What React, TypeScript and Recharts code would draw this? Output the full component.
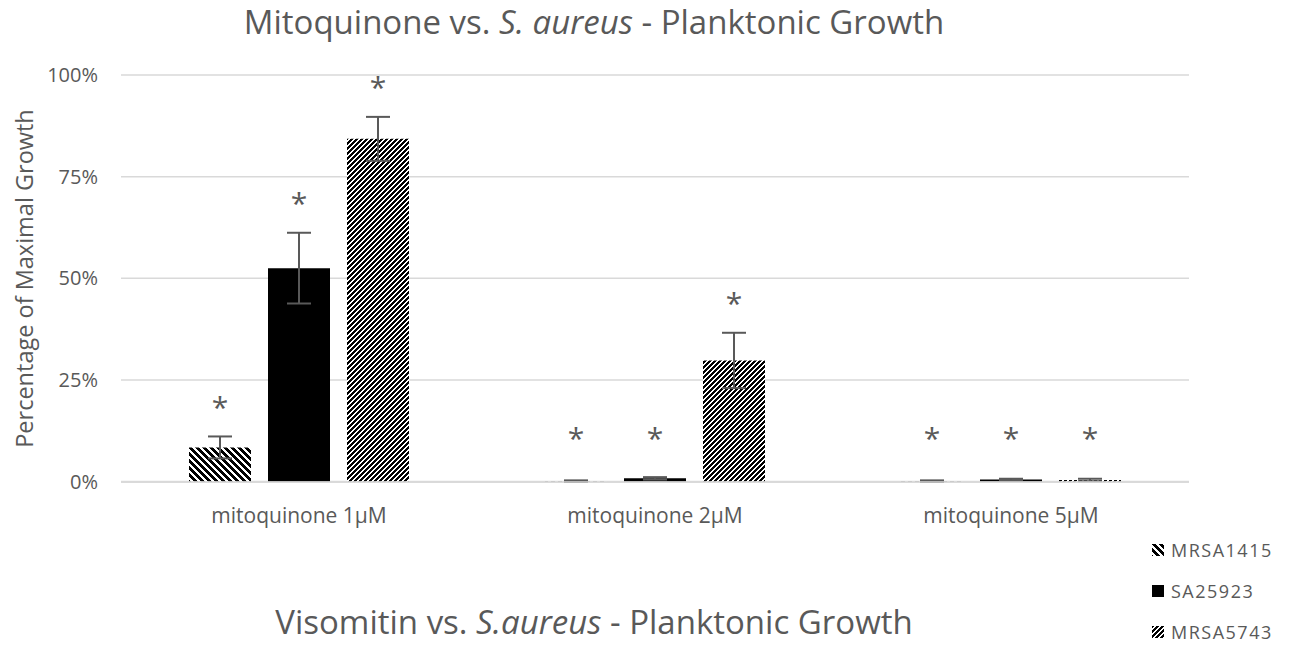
import React from "react";
import {
  BarChart,
  Bar,
  XAxis,
  YAxis,
  CartesianGrid,
  ErrorBar,
  LabelList,
} from "recharts";

const categories = ["mitoquinone 1µM", "mitoquinone 2µM", "mitoquinone 5µM"];
const mrsa1415 = [8.4, 0.1, 0.1];
const mrsa1415Err = [2.7, 0.2, 0.2];
const sa25923 = [52.5, 0.8, 0.5];
const sa25923Err = [8.7, 0.3, 0.2];
const mrsa5743 = [84.3, 29.8, 0.4];
const mrsa5743Err = [5.4, 6.8, 0.3];
const yTicks = [0, 25, 50, 75, 100];

const data = categories.map((name, i) => ({
  name,
  mrsa1415: mrsa1415[i],
  mrsa1415Err: mrsa1415Err[i],
  sa25923: sa25923[i],
  sa25923Err: sa25923Err[i],
  mrsa5743: mrsa5743[i],
  mrsa5743Err: mrsa5743Err[i],
}));

const FONT = "'Open Sans', sans-serif";
const TEXT = "#595959";
const PLOT_TOP = 75;
const PLOT_H = 407;

// pixel-stepped diagonal hatch, like an office bitmap fill
function Hatch({ id, period, ink, back }: { id: string; period: number; ink: number; back: boolean }) {
  const rows = [];
  for (let y = 0; y < period; y++) {
    const s = back ? y : period - 1 - y;
    rows.push(<rect key={`a${y}`} x={s} y={y} width={ink} height={1} fill="#000" />);
    rows.push(<rect key={`b${y}`} x={s - period} y={y} width={ink} height={1} fill="#000" />);
  }
  return (
    <pattern id={id} width={period} height={period} patternUnits="userSpaceOnUse">
      <rect width={period} height={period} fill="#fff" />
      {rows}
    </pattern>
  );
}

// asterisk sits above the error bar cap, never closer than 44px to the baseline
const star = (errs: number[]) => (props: any) => {
  const { x, y, width, height, index } = props;
  const errPx = (errs[index] / 100) * PLOT_H;
  const base = Number(y) + Number(height);
  const cy = Math.min(Number(y) - errPx - 30, base - 44);
  return (
    <text
      x={Number(x) + Number(width) / 2}
      y={cy}
      textAnchor="middle"
      dominantBaseline="central"
      fontFamily={FONT}
      fontSize={30}
      fill={TEXT}
    >
      *
    </text>
  );
};

const legendItems = [
  { label: "MRSA1415", fill: "url(#stripeBack)" },
  { label: "SA25923", fill: "#000" },
  { label: "MRSA5743", fill: "url(#stripeFwd)" },
];

function SideLegend() {
  return (
    <div
      style={{
        position: "absolute",
        left: 1152,
        top: 529,
        fontFamily: FONT,
        fontSize: 18,
        letterSpacing: 1.5,
        color: TEXT,
      }}
    >
      {legendItems.map((it) => (
        <div
          key={it.label}
          style={{ display: "flex", alignItems: "center", height: 41 }}
        >
          <svg width={12} height={12} style={{ marginRight: 7 }}>
            <rect width={12} height={12} fill={it.fill} />
          </svg>
          <span>{it.label}</span>
        </div>
      ))}
    </div>
  );
}

const titleStyle: React.CSSProperties = {
  position: "absolute",
  left: 0,
  width: 1188,
  textAlign: "center",
  fontFamily: FONT,
  fontSize: 33,
  color: TEXT,
  lineHeight: "40px",
  whiteSpace: "nowrap",
};

export default function App() {
  return (
    <div
      style={{
        position: "absolute",
        left: 0,
        top: 0,
        width: 1289,
        height: 651,
        background: "#fff",
        overflow: "hidden",
      }}
    >
      <div style={{ ...titleStyle, top: 2 }}>
        Mitoquinone vs. <i>S. aureus</i> - Planktonic Growth
      </div>
      <BarChart
        width={1289}
        height={651}
        data={data}
        margin={{ top: PLOT_TOP, right: 100, bottom: 139, left: 0 }}
        barSize={62}
        barGap={17}
      >
        <defs>
          <Hatch id="stripeBack" period={7} ink={4} back />
          <Hatch id="stripeFwd" period={5} ink={3} back={false} />
        </defs>
        <CartesianGrid vertical={false} stroke="#d9d9d9" strokeWidth={1.5} />
        <XAxis
          dataKey="name"
          axisLine={{ stroke: "#d9d9d9", strokeWidth: 1.5 }}
          tickLine={false}
          height={30}
          tickMargin={20}
          tick={{ fill: TEXT, fontSize: 21, fontFamily: FONT }}
        />
        <YAxis
          width={121}
          domain={[0, 100]}
          ticks={yTicks}
          tickFormatter={(v) => `${v}%`}
          axisLine={false}
          tickLine={false}
          tickSize={0}
          tickMargin={23}
          tick={{ fill: TEXT, fontSize: 20, fontFamily: FONT }}
          label={{
            content: () => (
              <text
                x={24}
                y={PLOT_TOP + PLOT_H / 2}
                transform={`rotate(-90 24 ${PLOT_TOP + PLOT_H / 2})`}
                textAnchor="middle"
                dominantBaseline="central"
                fontFamily={FONT}
                fontSize={23.5}
                fill={TEXT}
              >
                Percentage of Maximal Growth
              </text>
            ),
          }}
        />
        <Bar dataKey="mrsa1415" fill="url(#stripeBack)" isAnimationActive={false}>
          <ErrorBar dataKey="mrsa1415Err" width={12} strokeWidth={2} stroke={TEXT} />
          <LabelList dataKey="mrsa1415" content={star(mrsa1415Err)} />
        </Bar>
        <Bar dataKey="sa25923" fill="#000" isAnimationActive={false}>
          <ErrorBar dataKey="sa25923Err" width={12} strokeWidth={2} stroke={TEXT} />
          <LabelList dataKey="sa25923" content={star(sa25923Err)} />
        </Bar>
        <Bar dataKey="mrsa5743" fill="url(#stripeFwd)" isAnimationActive={false}>
          <ErrorBar dataKey="mrsa5743Err" width={12} strokeWidth={2} stroke={TEXT} />
          <LabelList dataKey="mrsa5743" content={star(mrsa5743Err)} />
        </Bar>
      </BarChart>
      <SideLegend />
      <div style={{ ...titleStyle, top: 602 }}>
        Visomitin vs. <i>S.aureus</i> - Planktonic Growth
      </div>
    </div>
  );
}
